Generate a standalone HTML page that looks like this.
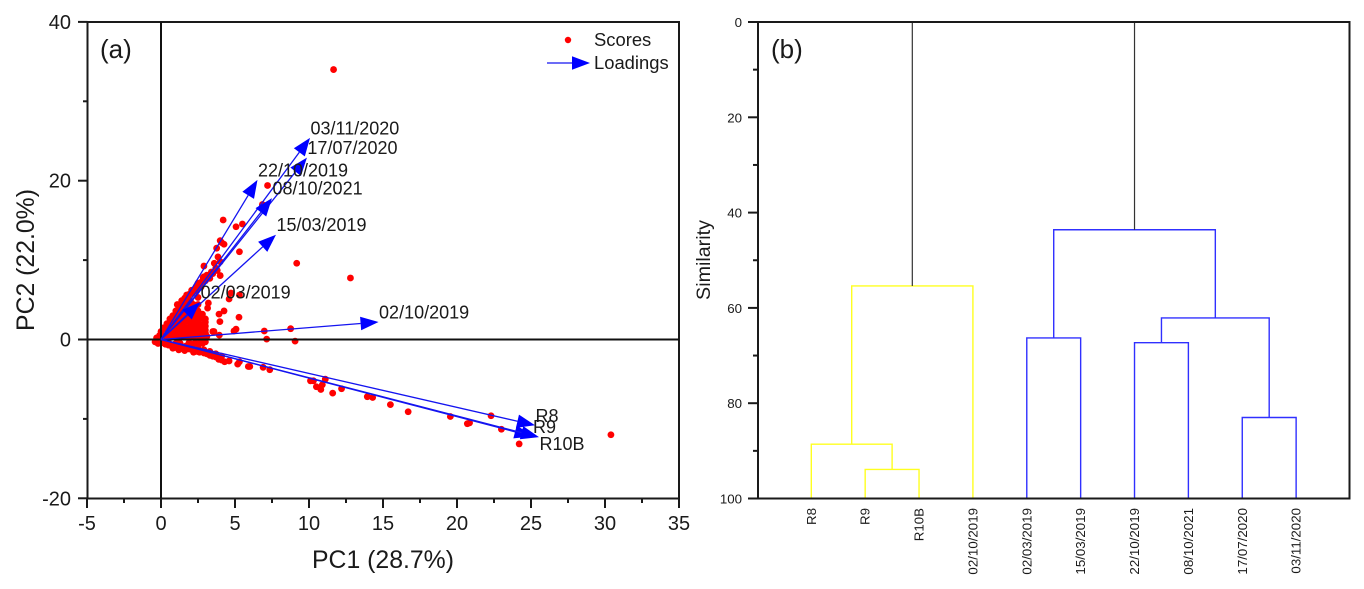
<!DOCTYPE html>
<html lang="en">
<head>
<meta charset="utf-8">
<title>PCA biplot and dendrogram</title>
<style>
html,body{margin:0;padding:0;background:#fff;width:1364px;height:589px;overflow:hidden}
svg{display:block;font-family:"Liberation Sans",Arial,sans-serif;fill:#1a1a1a}
</style>
</head>
<body>
<svg id="chart" xmlns="http://www.w3.org/2000/svg" width="1364" height="589" viewBox="0 0 1364 589"></svg>
<script>
// ---------- Panel (a) data ----------
const pcaXTicks = [-5, 0, 5, 10, 15, 20, 25, 30, 35];
const pcaYTicks = [-20, 0, 20, 40];
const pcaXMinorTicks = [-2.5, 2.5, 7.5, 12.5, 17.5, 22.5, 27.5, 32.5];
const pcaYMinorTicks = [-10, 10, 30];
const loadingNames = ['03/11/2020', '17/07/2020', '22/10/2019', '08/10/2021', '15/03/2019', '02/03/2019', '02/10/2019', 'R8', 'R9', 'R10B'];
const loadingPC1 = [10.07, 9.86, 6.52, 7.5, 7.77, 2.64, 14.7, 25.27, 25.1, 25.54];
const loadingPC2 = [25.4, 22.9, 20.1, 17.8, 13.2, 4.7, 2.2, -10.8, -12.2, -12.3];
const scorePC1 = [
 11.66, 7.2, 4.2, 5.07, 5.5, 4.0, 4.26, 4.1, 3.76, 5.3, 3.85, 3.6, 4.0, 2.9, 9.17, 12.8, 4.0, 6.85,
 4.6, 5.3, 4.73, 3.2, 3.15, 4.26, 3.92, 5.27, 3.98, 5.07, 4.93, 3.58, 3.94, 6.98, 7.14, 8.76, 9.06,
 5.18, 5.3, 5.9, 6.0, 6.9, 7.35, 10.1, 10.3, 10.5, 10.8, 10.9, 11.1, 11.6, 12.2,
 13.94, 14.3, 15.5, 16.7, 19.55, 20.7, 20.85, 22.3, 23.0, 24.2, 30.4,
 -0.4, -0.3, -0.2, -0.1, 0, 0.1, 0.2, 0.3, 0.3, 0.4, 0.5, 0.5, 0.6, 0.6, 0.7, 0.7, 0.8, 0.8, 0.9, 0.9,
 1, 1, 1, 1, 1, 1.1, 1.2, 1.2, 1.2, 1.3, 1.3, 1.4, 1.4, 1.5, 1.5, 1.5, 1.6, 1.6, 1.7, 1.7,
 1.8, 1.8, 1.8, 1.9, 1.9, 2, 2, 2, 2, 2, 2.1, 2.2, 2.2, 2.2, 2.3, 2.3, 2.3, 2.4, 2.4, 2.5,
 2.5, 2.5, 2.5, 2.6, 2.6, 2.7, 2.7, 2.7, 2.8, 2.8, 2.9, 2.9, 3, 3, 3, 3.1, 3.1, 3.2, 3.3, 3.5,
 3.7, 3.9, 4.1, 4.3, 4.6, 2, 2.8, 2.85, 3.1, 2.5, 2.07, 1.73, 3.4, 3.7, 2.4, 3.5, 2.6, 1.2, 1.6, 2.2
];
const scorePC2 = [
 34.0, 19.4, 15.05, 14.2, 14.55, 12.45, 12.0, 12.2, 11.5, 11.05, 10.4, 9.6, 9.8, 9.25, 9.6, 7.75, 8.05, 17.0,
 5.1, 5.6, 5.85, 4.6, 3.96, 3.6, 3.2, 2.8, 2.25, 1.3, 1.07, 1.0, 0.55, 1.07, 0.05, 1.36, -0.2,
 -3.1, -2.8, -3.4, -3.4, -3.5, -3.8, -5.2, -5.2, -5.95, -6.3, -5.7, -5.0, -6.75, -6.2,
 -7.2, -7.3, -8.2, -9.1, -9.7, -10.6, -10.5, -9.6, -11.3, -13.15, -12.0,
 -0.3, 0.2, -0.5, 0.5, 1, -0.4, 1.5, 0.5, -0.6, 2, 1, -0.3, 2.6, 1.6, 0.6, -0.8, 3, 2, 1.2, 0.3,
 3.6, 2.6, 1.6, 0.7, -1, 4.4, 3.2, 2.2, 1.2, 0.3, -0.9, 4.9, 3.8, 2.8, 1.8, 0.8, -1.1, 5.2, 4.3, 3.3,
 2.4, 1.3, 0.3, -1.2, 5.7, 4.8, 3.8, 2.9, 1.9, 0.9, -1.3, 6.2, 4.4, 3.3, 2.4, 1.4, -0.4, -1.5, 6.7, 5.3,
 3.1, 2.2, 1.1, 0.2, -1.6, 7.2, 2.7, 1.6, 0.7, -0.5, -1.7, 7.9, 2.2, 1.2, -0.3, 0.4, -1.8, 8, -2, -2.1,
 -2.2, -2.5, -2.6, -2.8, -2.7, -1.1, -1.4, 7.8, 8.1, 7.1, 6.2, 5.6, 8.5, 9, 2.9, 1, -0.5, -1.3, -1.4, -1.6
];
// densest part of the point cloud, read from the wedge next to the origin
const clusterPC1 = [
 0.4, 0.4, 0.7, 0.7, 0.7, 0.7, 1.0, 1.0, 1.0, 1.0, 1.3, 1.3, 1.3, 1.3, 1.3,
 1.6, 1.6, 1.6, 1.6, 1.6, 1.6, 1.6, 1.9, 1.9, 1.9, 1.9, 1.9, 1.9, 1.9,
 2.2, 2.2, 2.2, 2.2, 2.2, 2.2, 2.5, 2.5, 2.5, 2.5, 2.5, 2.8, 2.8, 2.8, 2.8, 3.0, 3.0, 3.0,
 0.5, 0.9, 1.3, 1.7, 2.1, 2.5, 2.9, 3.3, 3.7, 4.1, 1.1, 1.9, 0.3, 0.8, 1.2,
 1.2, 1.5, 1.8, 2.1, 2.4, 2.7, 3.0, 3.3, 3.5, 3.8
];
const clusterPC2 = [
 0.4, 1.2, 0.3, 1.0, 1.8, 2.4, 0.3, 1.1, 2.0, 3.0, 0.6, 1.5, 2.5, 3.4, 4.2,
 0.4, 1.0, 1.5, 2.2, 2.8, 3.8, 4.6, 0.5, 1.1, 1.6, 2.4, 3.2, 4.2, 5.0,
 0.4, 0.8, 1.2, 1.9, 2.7, 3.6, 0.5, 1.6, 2.6, 3.6, 4.4, 0.3, 1.2, 1.9, 3.2, 0.8, 1.7, 2.6,
 -0.7, -0.6, -0.5, -0.8, -0.9, -1.1, -1.3, -1.5, -1.8, -2.1, -0.3, -0.4, -0.3, -1.1, -1.2,
 4.0, 4.6, 5.2, 5.8, 6.1, 6.6, 7.4, 7.7, 8.3, 8.7
];

// ---------- Panel (b) data ----------
const leafNames = ['R8', 'R9', 'R10B', '02/10/2019', '02/03/2019', '15/03/2019', '22/10/2019', '08/10/2021', '17/07/2020', '03/11/2020'];
const simTicks = [0, 20, 40, 60, 80, 100];
const simMinorTicks = [10, 30, 50, 70, 90];
// merges: indices of the joined members (leaf index, or 10+n for earlier merge n)
const mergeLeft = [1, 0, 10 + 1, 4, 6, 8, 10 + 4, 10 + 3];
const mergeRight = [2, 10 + 0, 3, 5, 7, 9, 10 + 5, 10 + 6];
const mergeSimilarity = [93.9, 88.6, 55.4, 66.3, 67.3, 83.0, 62.1, 43.6];
const mergeGroup = ['yellow', 'yellow', 'yellow', 'blue', 'blue', 'blue', 'blue', 'blue'];
const rootMembers = [10 + 2, 10 + 7];

// ---------- Axis functions ----------
const pcaX = v => 161 + 14.8 * v;
const pcaY = v => 339.5 - 7.94 * v;
const simY = v => 22 + 4.765 * v;
const leafX = i => 811.3 + 53.87 * i;

const svg = document.getElementById('chart');
const NS = 'http://www.w3.org/2000/svg';
function mk(tag, attrs, parent) {
  const el = document.createElementNS(NS, tag);
  for (const k in attrs) el.setAttribute(k, attrs[k]);
  (parent || svg).appendChild(el);
  return el;
}
function line(x1, y1, x2, y2, stroke, w, parent) {
  return mk('line', { x1, y1, x2, y2, stroke, 'stroke-width': w }, parent);
}
function label(str, x, y, size, anchor, rotate, parent) {
  const attrs = { x, y, 'font-size': size, 'text-anchor': anchor };
  if (rotate) attrs.transform = 'rotate(-90 ' + x + ' ' + y + ')';
  const el = mk('text', attrs, parent);
  el.textContent = str;
  return el;
}
function arrow(x1, y1, x2, y2, parent, lw) {
  const a = Math.atan2(y2 - y1, x2 - x1), L = 18, W = 6.8;
  const bx = x2 - L * Math.cos(a), by = y2 - L * Math.sin(a);
  const nx = -Math.sin(a) * W, ny = Math.cos(a) * W;
  const shaft = line(x1, y1, bx, by, '#1414f0', lw, parent);
  
  
  const head = mk('polygon', { points: x2 + ',' + y2 + ' ' + (bx + nx) + ',' + (by + ny) + ' ' + (bx - nx) + ',' + (by - ny), fill: '#0000ff' }, parent);
  
  
}

// ---------- Panel (a) ----------
const panelA = mk('g', {});



const scoreLayer = mk('g', { fill: '#ff0000' }, panelA);


scorePC1.forEach((v, i) => {
  const dot = mk('circle', { cx: pcaX(v), cy: pcaY(scorePC2[i]), r: 3.4 }, scoreLayer);
  
  
});
clusterPC1.forEach((v, i) => {
  const dot = mk('circle', { cx: pcaX(v), cy: pcaY(clusterPC2[i]), r: 3.4 }, scoreLayer);
  
  
});

const frameA = mk('rect', { x: 87.5, y: 22, width: 591.5, height: 476.5, fill: 'none', stroke: '#1a1a1a', 'stroke-width': 2 }, panelA);


const zeroV = line(pcaX(0), 22, pcaX(0), 498.5, '#111', 2, panelA);


const zeroH = line(87.5, pcaY(0), 679, pcaY(0), '#111', 2, panelA);



const loadingLayer = mk('g', {}, panelA);


loadingNames.forEach((name, i) => {
  const tx = pcaX(loadingPC1[i]), ty = pcaY(loadingPC2[i]);
  arrow(pcaX(0), pcaY(0), tx, ty, loadingLayer, 1.3);
  const dy = name === 'R10B' ? 13 : -3.5;
  const t = label(name, tx + 0.5, ty + dy, 18, 'start', false, panelA);
  
  
});

pcaXTicks.forEach(v => {
  const tick = line(pcaX(v), 498.5, pcaX(v), 508, '#1a1a1a', 2, panelA);
  
  
  const t = label(String(v), pcaX(v), 530, 20, 'middle', false, panelA);
  
  
});
pcaXMinorTicks.forEach(v => {
  const tick = line(pcaX(v), 498.5, pcaX(v), 503, '#1a1a1a', 2, panelA);
  
  
});
pcaYTicks.forEach(v => {
  const tick = line(78, pcaY(v), 87.5, pcaY(v), '#1a1a1a', 2, panelA);
  
  
  const t = label(String(v), 71, pcaY(v) + 7, 20, 'end', false, panelA);
  
  
});
pcaYMinorTicks.forEach(v => {
  const tick = line(83, pcaY(v), 87.5, pcaY(v), '#1a1a1a', 2, panelA);
  
  
});

const xTitle = label('PC1 (28.7%)', 383, 568, 24.8, 'middle', false, panelA);


const yTitle = label('PC2 (22.0%)', 34, 260, 24.8, 'middle', true, panelA);


const tagA = label('(a)', 100, 58, 26, 'start', false, panelA);



const legend = mk('g', {}, panelA);


const legendDot = mk('circle', { cx: 568, cy: 40, r: 3.2, fill: '#ff0000' }, legend);


const legendScores = label('Scores', 594, 46, 18.4, 'start', false, legend);


arrow(547, 63, 590, 63, legend, 1.3);
const legendLoadings = label('Loadings', 594, 69, 18.4, 'start', false, legend);



// ---------- Panel (b) ----------
const panelB = mk('g', {});



const groupColor = { yellow: '#ffff20', blue: '#3030ff' };
const mergeX = [];
const memberX = i => i < 10 ? leafX(i) : mergeX[i - 10];
const memberY = i => i < 10 ? simY(100) : simY(mergeSimilarity[i - 10]);
mergeSimilarity.forEach((s, n) => {
  const l = mergeLeft[n], r = mergeRight[n];
  const xl = memberX(l), xr = memberX(r), y = simY(s);
  mergeX[n] = (xl + xr) / 2;
  const path = mk('path', {
    d: 'M' + xl + ' ' + memberY(l) + 'V' + y + 'H' + xr + 'V' + memberY(r),
    fill: 'none', stroke: groupColor[mergeGroup[n]], 'stroke-width': 1.4
  }, panelB);
  
  
});
rootMembers.forEach(m => {
  const stem = line(memberX(m), simY(0), memberX(m), memberY(m), '#333', 1.2, panelB);
  
  
});

const frameB = mk('rect', { x: 758, y: 22, width: 591.5, height: 476.5, fill: 'none', stroke: '#1a1a1a', 'stroke-width': 2 }, panelB);



simTicks.forEach(v => {
  const tick = line(748, simY(v), 758, simY(v), '#1a1a1a', 2, panelB);
  
  
  const t = label(String(v), 742, simY(v) + 5, 13.3, 'end', false, panelB);
  
  
});
simMinorTicks.forEach(v => {
  const tick = line(753, simY(v), 758, simY(v), '#1a1a1a', 2, panelB);
  
  
});
leafNames.forEach((name, i) => {
  const t = label(name, leafX(i) + 4.5, 508, 13.3, 'end', true, panelB);
  
  
});
const simTitle = label('Similarity', 710, 260, 19.7, 'middle', true, panelB);


const tagB = label('(b)', 771, 58, 26, 'start', false, panelB);


</script>
</body>
</html>
